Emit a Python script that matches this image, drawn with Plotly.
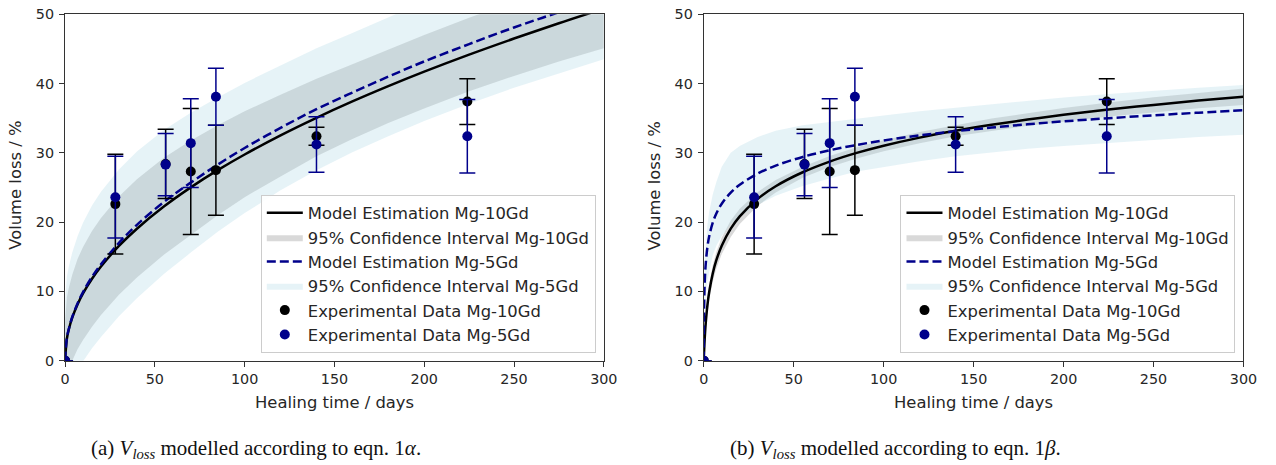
import plotly.graph_objects as go

# ---------------- data ----------------
days = [0, 28, 56, 70, 84, 140, 224]
vol_10gd = [0, 22.6, 28.4, 27.3, 27.5, 32.4, 37.4]
err_10gd = [0, 7.2, 5.0, 9.1, 6.5, 1.3, 3.3]
vol_5gd = [0, 23.6, 28.3, 31.4, 38.1, 31.2, 32.4]
err_5gd = [0, 5.9, 4.5, 6.4, 4.1, 4.0, 5.3]

# panel (a): model curves and 95% bands
t_a = [0, 1, 2, 4, 7, 10, 15, 20, 30, 40, 55, 70, 85, 100, 120, 140, 160, 180, 200, 225, 250, 275, 300]
model_a_10gd = [0, 3.16, 4.43, 6.21, 8.15, 9.70, 11.82, 13.59, 16.56, 19.05, 22.25, 25.02, 27.50, 29.76,
                32.53, 35.06, 37.42, 39.63, 41.72, 44.18, 46.50, 48.71, 50.82]
ci_a_10gd_hi = [5.7, 9.1, 10.4, 12.4, 14.7, 16.4, 18.7, 20.6, 23.7, 26.2, 29.3, 31.8, 34.0, 36.0,
                38.4, 40.7, 42.8, 44.9, 47.0, 49.5, 51.9, 54.2, 56.5]
ci_a_10gd_lo = [-5.7, -2.7, -1.6, 0.0, 1.7, 3.0, 4.9, 6.6, 9.5, 12.0, 15.3, 18.2, 21.0, 23.6,
                26.6, 29.5, 32.0, 34.3, 36.4, 38.9, 41.1, 43.2, 45.1]
model_a_5gd = [0, 3.3, 4.5, 6.3, 8.3, 9.9, 12.1, 13.9, 17.0, 19.6, 22.9, 25.7, 28.3, 30.7,
               33.6, 36.3, 38.7, 41.0, 43.2, 45.7, 48.1, 50.3, 52.5]
ci_a_5gd_hi = [8.6, 12.1, 13.5, 15.6, 18.0, 19.9, 22.4, 24.4, 27.6, 30.2, 33.3, 35.8, 38.0, 40.1,
               42.6, 45.1, 47.3, 49.6, 51.8, 54.3, 56.8, 59.1, 61.5]
ci_a_5gd_lo = [-8.6, -5.5, -4.5, -3.0, -1.4, -0.1, 1.8, 3.4, 6.4, 9.0, 12.5, 15.6, 18.6, 21.3,
               24.6, 27.5, 30.1, 32.4, 34.6, 37.1, 39.4, 41.5, 43.5]

# panel (b)
t_b = [0, 0.1, 0.3, 0.5, 1, 2, 3, 5, 7, 10, 15, 20, 30, 40, 55, 70, 85, 100, 120, 140, 160, 180, 200,
       225, 250, 275, 300]
model_b_10gd = [0, 0.73, 1.99, 3.04, 5.10, 7.92, 9.87, 12.59, 14.50, 16.59, 19.05, 20.83, 23.36, 25.18,
                27.20, 28.74, 29.99, 31.03, 32.20, 33.19, 34.05, 34.81, 35.49, 36.25, 36.92, 37.54, 38.10]
ci_b_10gd_hi = [0, 0.88, 2.29, 3.44, 5.80, 8.92, 10.97, 13.79, 15.70, 17.79, 20.25, 21.93, 24.36, 26.08,
                28.00, 29.54, 30.79, 31.83, 33.00, 33.99, 34.95, 35.71, 36.49, 37.25, 38.02, 38.64, 39.30]
ci_b_10gd_lo = [0, 0.58, 1.69, 2.64, 4.40, 6.92, 8.77, 11.39, 13.30, 15.39, 17.85, 19.73, 22.36, 24.28,
                26.40, 27.94, 29.19, 30.23, 31.40, 32.39, 33.15, 33.91, 34.49, 35.25, 35.82, 36.44, 36.90]
model_b_5gd = [0, 5.50, 9.14, 11.01, 13.63, 16.32, 17.91, 19.92, 21.25, 22.66, 24.26, 25.40, 27.01, 28.15,
               29.41, 30.37, 31.14, 31.79, 32.51, 33.12, 33.65, 34.12, 34.54, 35.00, 35.42, 35.80, 36.15]
ci_b_5gd_hi = [0, 8, 12, 13.5, 16, 19.5, 21.5, 24, 25.8, 28.0, 30.0, 31.0, 32.3, 33.2, 34.0, 34.5, 34.9,
               35.4, 36.0, 36.5, 37.0, 37.5, 38.0, 38.5, 39.0, 39.4, 39.8]
ci_b_5gd_lo = [0, 3, 6, 7.5, 9.5, 11.5, 13, 15.2, 16.6, 18.0, 19.7, 20.8, 22.5, 23.8, 25.2, 26.3, 27.3,
               28.0, 28.8, 29.5, 30.1, 30.6, 31.0, 31.5, 31.9, 32.3, 32.6]

x_ticks = [0, 50, 100, 150, 200, 250, 300]
y_ticks = [0, 10, 20, 30, 40, 50]

names = ["Model Estimation Mg-10Gd", "95% Confidence Interval Mg-10Gd", "Model Estimation Mg-5Gd",
         "95% Confidence Interval Mg-5Gd", "Experimental Data Mg-10Gd", "Experimental Data Mg-5Gd"]
captions = ["(a) <i>V</i><sub><i>loss</i></sub> modelled according to eqn. 1<i>α</i>.",
            "(b) <i>V</i><sub><i>loss</i></sub> modelled according to eqn. 1<i>β</i>."]

# ---------------- page geometry ----------------
W, H = 1276, 465
# mapping from wanted screen pixels to figure pixels (calibrated from earlier renders)
SX, OX = 0.9856, 3.9
SY, OY = 0.9657, 7.3


def px(x):
    return ((x - OX) / SX) / W


def py(y):
    return 1 - ((y - OY) / SY) / H


FS = 1 / ((SX + SY) / 2)  # font compensation

BLACK = "#000000"
BLUE = "#00008B"
GRAY_FILL = "rgba(128,128,128,0.30)"
BLUE_FILL = "rgba(173,216,230,0.30)"
FONT = "DejaVu Sans"

fig = go.Figure()

panels = [
    dict(t=t_a, m10=model_a_10gd, h10=ci_a_10gd_hi, l10=ci_a_10gd_lo, m5=model_a_5gd, h5=ci_a_5gd_hi,
         l5=ci_a_5gd_lo, xa="x", ya="y", leg="legend"),
    dict(t=t_b, m10=model_b_10gd, h10=ci_b_10gd_hi, l10=ci_b_10gd_lo, m5=model_b_5gd, h5=ci_b_5gd_hi,
         l5=ci_b_5gd_lo, xa="x2", ya="y2", leg="legend2"),
]

for i, p in enumerate(panels):
    common = dict(xaxis=p["xa"], yaxis=p["ya"], legend=p["leg"])
    t = p["t"]
    # bands (drawn first)
    fig.add_trace(go.Scatter(x=t + t[::-1], y=p["h10"] + p["l10"][::-1], fill="toself",
                             fillcolor=GRAY_FILL, line=dict(width=0), mode="lines", name=names[1],
                             legendrank=2, hoverinfo="skip", **common))
    fig.add_trace(go.Scatter(x=t + t[::-1], y=p["h5"] + p["l5"][::-1], fill="toself",
                             fillcolor=BLUE_FILL, line=dict(width=0), mode="lines", name=names[3],
                             legendrank=4, hoverinfo="skip", **common))
    # model lines
    fig.add_trace(go.Scatter(x=t, y=p["m10"], mode="lines", line=dict(color=BLACK, width=2.5, shape="spline"),
                             name=names[0], legendrank=1, **common))
    fig.add_trace(go.Scatter(x=t, y=p["m5"], mode="lines",
                             line=dict(color=BLUE, width=2.5, dash="9px,4px", shape="spline"),
                             name=names[2], legendrank=3, **common))
    # experimental data
    fig.add_trace(go.Scatter(x=days, y=vol_10gd, mode="markers",
                             marker=dict(color=BLACK, size=10),
                             error_y=dict(type="data", array=err_10gd, color=BLACK, thickness=1.5, width=8),
                             name=names[4], legendrank=5, **common))
    fig.add_trace(go.Scatter(x=days, y=vol_5gd, mode="markers",
                             marker=dict(color=BLUE, size=10),
                             error_y=dict(type="data", array=err_5gd, color=BLUE, thickness=1.5, width=8),
                             name=names[5], legendrank=6, **common))

# ---------------- layout ----------------
y_dom = [py(360), py(13.6)]
x_dom_a = [px(64), px(603)]
x_dom_b = [px(703), px(1243)]

axis_common = dict(showgrid=False, zeroline=False, showline=True, mirror=True, linecolor="#333333",
                   linewidth=1.2, ticks="outside", ticklen=5, tickwidth=1.2, tickcolor="#333333",
                   ticklabeloverflow="allow",
                   tickfont=dict(family=FONT, size=14 * FS, color="#262626"))

xa_common = dict(axis_common, range=[0, 300], tickvals=x_ticks, ticktext=[str(v) for v in x_ticks])
ya_common = dict(axis_common, range=[0, 50], tickvals=y_ticks, ticktext=[str(v) for v in y_ticks],
                 ticklabelstandoff=2)

legend_common = dict(font=dict(family=FONT, size=16 * FS, color="#262626"), bgcolor="rgba(255,255,255,0.85)",
                     bordercolor="#cccccc", borderwidth=1, xanchor="right", yanchor="bottom",
                     y=py(352), traceorder="normal", itemwidth=36)

annotations = []
for dom in (x_dom_a, x_dom_b):
    annotations.append(dict(text="Healing time / days", xref="paper", yref="paper",
                            x=(dom[0] + dom[1]) / 2, y=py(402), xanchor="center", yanchor="middle",
                            showarrow=False, font=dict(family=FONT, size=16 * FS, color="#262626")))
    annotations.append(dict(text="Volume loss / %", xref="paper", yref="paper", textangle=-90,
                            x=dom[0] - px(64) + px(15), y=py(185), xanchor="center", yanchor="middle",
                            showarrow=False, font=dict(family=FONT, size=16 * FS, color="#262626")))
for cap, cx in zip(captions, [255, 895]):
    annotations.append(dict(text=cap, xref="paper", yref="paper", x=px(cx), y=py(448),
                            xanchor="center", yanchor="middle", showarrow=False,
                            font=dict(family="Liberation Serif", size=21, color="#111111")))

fig.update_layout(
    width=W, height=H, margin=dict(l=0, r=0, t=0, b=0),
    paper_bgcolor="white", plot_bgcolor="white",
    xaxis=dict(xa_common, domain=x_dom_a, anchor="y"),
    yaxis=dict(ya_common, domain=y_dom, anchor="x"),
    xaxis2=dict(xa_common, domain=x_dom_b, anchor="y2"),
    yaxis2=dict(ya_common, domain=y_dom, anchor="x2"),
    legend=dict(legend_common, x=px(595)),
    legend2=dict(legend_common, x=px(1235)),
    annotations=annotations,
    showlegend=True,
)

fig.write_html("out.html")
